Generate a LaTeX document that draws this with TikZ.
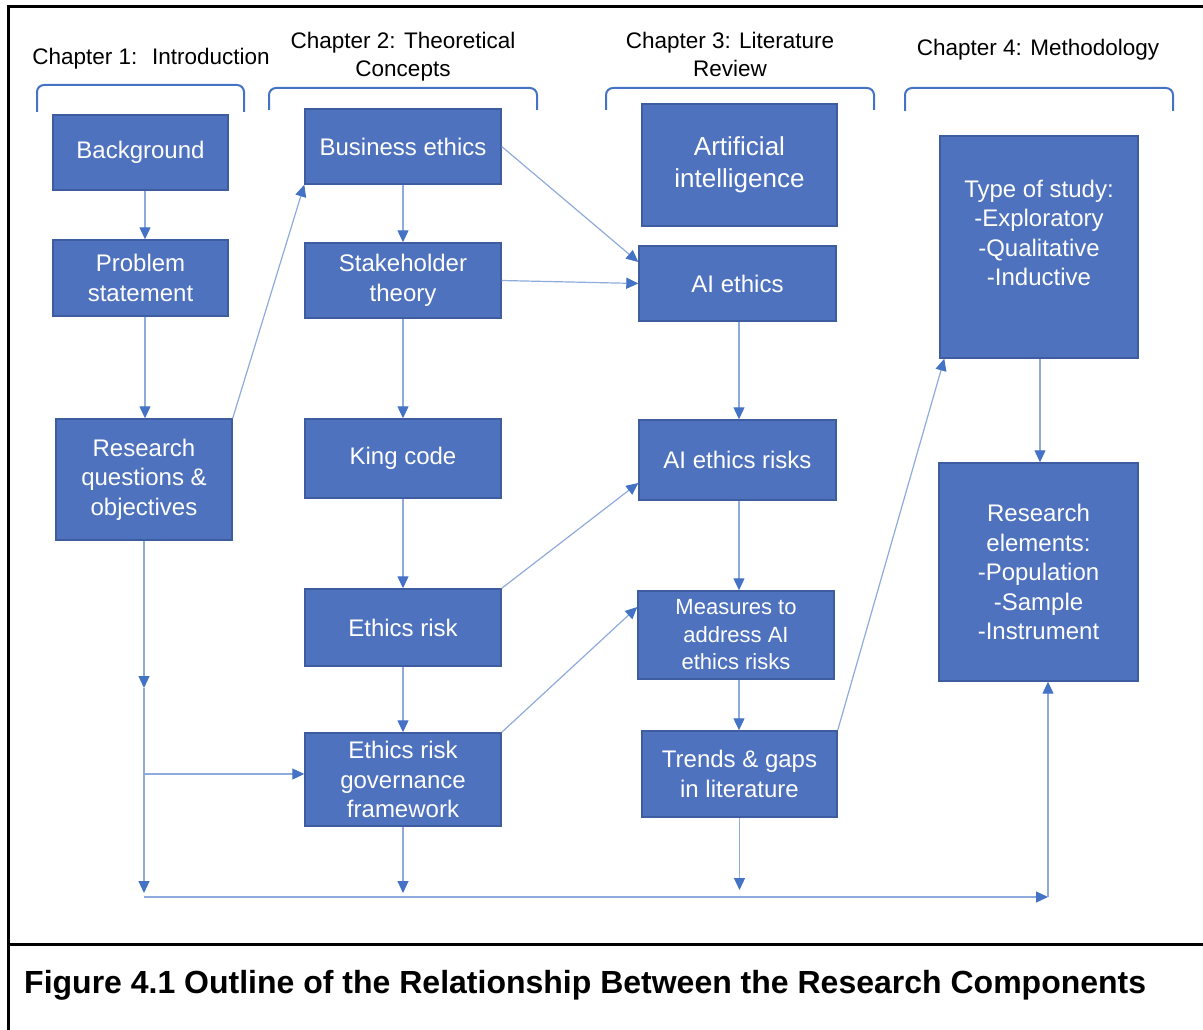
\documentclass[tikz,border=0pt]{standalone}
\usepackage{fontspec}
\setmainfont{Liberation Sans}
\usetikzlibrary{arrows.meta,calc}

\definecolor{boxfill}{RGB}{79,114,190}
\definecolor{boxline}{RGB}{62,92,160}
\definecolor{linkline}{RGB}{143,170,220}
\definecolor{tipblue}{RGB}{68,114,196}
\definecolor{bracketblue}{RGB}{68,114,196}

\tikzset{
  box/.style={draw=boxline, line width=1.4pt, fill=boxfill, text=white,
    align=center, inner sep=0pt, font=\fontsize{24}{29.5}\selectfont},
  link/.style={draw=linkline, line width=1.2pt},
  arrowed/.style={link, -{Triangle[length=12pt,width=11pt,color=tipblue]}},
  bracket/.style={draw=bracketblue, line width=2pt, rounded corners=7pt},
  chapter/.style={align=center, font=\fontsize{22.5}{28}\selectfont},
  frame/.style={draw=black, line width=3pt},
}

\begin{document}
\begin{tikzpicture}[x=1pt,y=-1pt]
\useasboundingbox (0,0) rectangle (1203,1030);

% outer table frame
\draw[frame] (8,1030) -- (8,7) -- (1203,7);
\draw[frame] (8,944) -- (1203,944);

% chapter headings
\node[chapter] (h1) at (151,59) {Chapter 1:~ Introduction};
\node[chapter] (h2) at (403,57) {Chapter 2: Theoretical\\Concepts};
\node[chapter] (h3) at (730,54) {Chapter 3: Literature\\Review};
\node[chapter] (h4) at (1038,50) {Chapter 4: Methodology};

% braces over the columns
\draw[bracket] (37,112) -- (37,85) -- (244,85) -- (244,112);
\draw[bracket] (269,110) -- (269,88) -- (537,88) -- (537,110);
\draw[bracket] (606,110) -- (606,88) -- (874,88) -- (874,110);
\draw[bracket] (905,111) -- (905,88) -- (1173,88) -- (1173,111);

% column lines for the vertical connectors
\coordinate (colA) at (145,0);
\coordinate (colC) at (739,0);
\coordinate (colD) at (1040,0);

% Chapter 1
\node[box, minimum width=175pt, minimum height=75pt] (bg) at (140.5,152.5) {Background};
\node[box, minimum width=175pt, minimum height=76pt] (ps) at (140.5,278) {Problem\\statement};
\node[box, minimum width=176pt, minimum height=121pt] (rq) at (144,479.5) {Research\\questions \&\\objectives};

% Chapter 2
\node[box, minimum width=196pt, minimum height=75pt] (be) at (403,146.5) {Business ethics};
\node[box, minimum width=196pt, minimum height=75pt] (st) at (403,280.5) {Stakeholder\\theory};
\node[box, minimum width=196pt, minimum height=79pt] (kc) at (403,458.5) {King code};
\node[box, minimum width=196pt, minimum height=77pt] (er) at (403,627.5) {Ethics risk};
\node[box, minimum width=196pt, minimum height=93pt] (gf) at (403,779.5) {Ethics risk\\governance\\framework};

% Chapter 3
\node[box, minimum width=195pt, minimum height=122pt, font=\fontsize{26}{32}\selectfont] (ai) at (739.5,165) {Artificial\\intelligence};
\node[box, minimum width=197pt, minimum height=75pt] (ae) at (737.5,283.5) {AI ethics};
\node[box, minimum width=197pt, minimum height=80pt] (ar) at (737.5,460) {AI ethics risks};
\node[box, minimum width=196pt, minimum height=88pt, font=\fontsize{22}{27.5}\selectfont] (ms) at (736,635) {Measures to\\address AI\\ethics risks};
\node[box, minimum width=195pt, minimum height=86pt] (tg) at (739.5,774) {Trends \& gaps\\in literature};

% Chapter 4
\node[box, minimum width=198pt, minimum height=222pt] (ts) at (1039,247) {};
\node[box, draw=none, fill=none, anchor=north] (tstext) at ([yshift=-44pt]ts.north) {Type of study:\\-Exploratory\\-Qualitative\\-Inductive};
\node[box, minimum width=199pt, minimum height=218pt] (re) at (1038.5,572) {Research\\elements:\\-Population\\-Sample\\-Instrument};

% routing points of the collecting lines
\coordinate (c1) at (144,688);
\coordinate (c2) at (144,774);
\coordinate (c3) at (144,893);
\coordinate (c4) at (144,897);
\coordinate (c5) at (1048,897);
\coordinate (d1) at (403,893);
\coordinate (d2) at (739.5,890);

% Chapter 1 flow
\draw[arrowed] (bg.south -| colA) -- (ps.north -| colA);
\draw[arrowed] (ps.south -| colA) -- (rq.north -| colA);
\draw[arrowed] (rq.north east) -- (be.south west);
\draw[arrowed] (rq.south) -- (c1);
\draw[link] (c1) -- (c2);
\draw[arrowed] (c2) -- (c2 -| gf.west);
\draw[arrowed] (c2) -- (c3);

% Chapter 2 flow
\draw[arrowed] (be) -- (st);
\draw[arrowed] (st) -- (kc);
\draw[arrowed] (kc) -- (er);
\draw[arrowed] (er) -- (gf);
\draw[arrowed] (gf.south) -- (d1);

% links into Chapter 3
\draw[arrowed] (be.east) -- ([yshift=21.5pt]ae.west);
\draw[arrowed] (st.east) -- (ae.west);
\draw[arrowed] (er.north east) -- ([yshift=-23pt]ar.west);
\draw[arrowed] (gf.north east) -- ([yshift=28pt]ms.west);

% Chapter 3 flow
\draw[arrowed] (ae.south -| colC) -- (ar.north -| colC);
\draw[arrowed] (ar.south -| colC) -- (ms.north -| colC);
\draw[arrowed] (ms.south -| colC) -- (tg.north -| colC);
\draw[arrowed] (tg.south) -- (d2);
\draw[arrowed] (tg.north east) -- ([xshift=5pt]ts.south west);

% Chapter 4 flow
\draw[arrowed] (ts.south -| colD) -- (re.north -| colD);
\draw[arrowed] (c4) -- (c5);
\draw[arrowed] (c5) -- (c5 |- re.south);

% caption
\node[anchor=base west, font=\bfseries\fontsize{32}{38}\selectfont, inner sep=0pt] (cap) at (24,993)
  {Figure 4.1 Outline of the Relationship Between the Research Components};
\end{tikzpicture}
\end{document}
